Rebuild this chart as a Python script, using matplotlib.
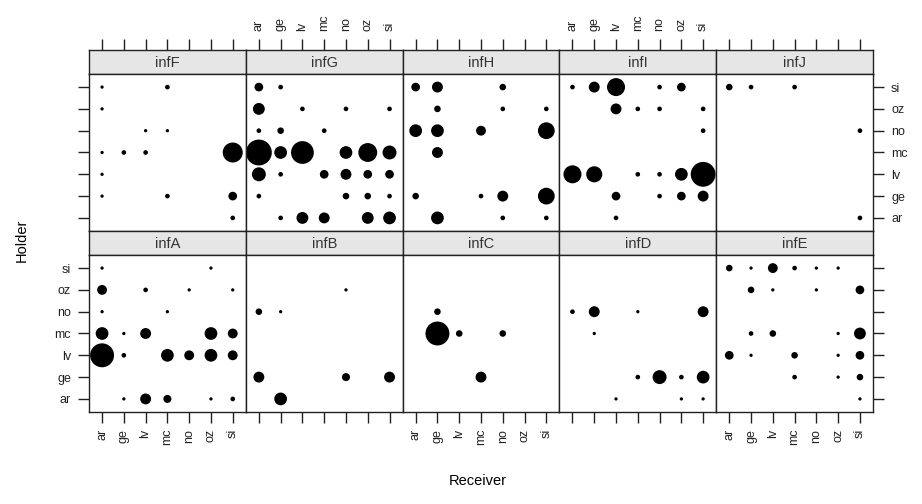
import numpy as np
import matplotlib
matplotlib.use("Agg")
import matplotlib.pyplot as plt

plt.rcParams['font.family'] = ['Liberation Sans', 'DejaVu Sans']

# receiver (x) and holder (y) categories
codes = ['ar', 'ge', 'lv', 'mc', 'no', 'oz', 'si']

# counts per panel, rows listed top to bottom (holder si..ar), cols receiver ar..si
infF = [[1, 0, 0, 2, 0, 0, 0],
        [1, 0, 0, 0, 0, 0, 0],
        [0, 0, 1, 1, 0, 0, 0],
        [1, 2, 2, 0, 0, 0, 37],
        [1, 0, 0, 0, 0, 0, 0],
        [1, 0, 0, 2, 0, 0, 7],
        [0, 0, 0, 0, 0, 0, 2]]
infG = [[7, 2, 0, 0, 0, 0, 0],
        [13, 0, 2, 0, 2, 0, 2],
        [2, 4, 0, 2, 0, 0, 0],
        [62, 15, 48, 0, 15, 33, 18],
        [18, 2, 0, 7, 11, 7, 7],
        [2, 0, 0, 0, 4, 4, 2],
        [0, 2, 13, 11, 0, 13, 15]]
infH = [[7, 11, 0, 0, 4, 0, 0],
        [0, 4, 0, 0, 2, 0, 2],
        [15, 15, 0, 9, 0, 0, 26],
        [0, 11, 0, 0, 0, 0, 0],
        [0, 0, 0, 0, 0, 0, 0],
        [4, 0, 0, 2, 11, 0, 26],
        [0, 15, 0, 0, 2, 0, 2]]
infI = [[2, 11, 30, 0, 2, 7, 0],
        [0, 0, 11, 2, 2, 0, 2],
        [0, 0, 0, 0, 0, 0, 2],
        [0, 0, 0, 0, 0, 0, 0],
        [30, 24, 0, 2, 2, 15, 57],
        [0, 0, 7, 0, 2, 7, 11],
        [0, 0, 2, 0, 0, 0, 0]]
infJ = [[4, 2, 0, 2, 0, 0, 0],
        [0, 0, 0, 0, 0, 0, 0],
        [0, 0, 0, 0, 0, 0, 2],
        [0, 0, 0, 0, 0, 0, 0],
        [0, 0, 0, 0, 0, 0, 0],
        [0, 0, 0, 0, 0, 0, 0],
        [0, 0, 0, 0, 0, 0, 2]]
infA = [[1, 0, 0, 0, 0, 1, 0],
        [9, 0, 2, 0, 1, 0, 1],
        [1, 0, 0, 1, 0, 0, 0],
        [15, 1, 11, 0, 0, 15, 9],
        [53, 2, 0, 15, 9, 15, 9],
        [0, 0, 0, 0, 0, 0, 0],
        [0, 1, 11, 6, 0, 1, 2]]
infB = [[0, 0, 0, 0, 0, 0, 0],
        [0, 0, 0, 0, 1, 0, 0],
        [4, 1, 0, 0, 0, 0, 0],
        [0, 0, 0, 0, 0, 0, 0],
        [0, 0, 0, 0, 0, 0, 0],
        [11, 0, 0, 0, 6, 0, 11],
        [0, 15, 0, 0, 0, 0, 0]]
infC = [[0, 0, 0, 0, 0, 0, 0],
        [0, 0, 0, 0, 0, 0, 0],
        [0, 4, 0, 0, 0, 0, 0],
        [0, 53, 4, 0, 4, 0, 0],
        [0, 0, 0, 0, 0, 0, 0],
        [0, 0, 0, 11, 0, 0, 0],
        [0, 0, 0, 0, 0, 0, 0]]
infD = [[0, 0, 0, 0, 0, 0, 0],
        [0, 0, 0, 0, 0, 0, 0],
        [2, 11, 0, 1, 0, 0, 11],
        [0, 1, 0, 0, 0, 0, 0],
        [0, 0, 0, 0, 0, 0, 0],
        [0, 0, 0, 2, 18, 2, 15],
        [0, 0, 1, 0, 0, 1, 1]]
infE = [[4, 1, 9, 2, 1, 1, 0],
        [0, 4, 1, 0, 1, 0, 7],
        [0, 0, 0, 0, 0, 0, 0],
        [0, 2, 4, 0, 0, 1, 13],
        [7, 1, 0, 4, 0, 1, 7],
        [0, 0, 0, 2, 0, 1, 4],
        [0, 0, 0, 0, 0, 0, 1]]

top_names = ['infF', 'infG', 'infH', 'infI', 'infJ']
top_data = [infF, infG, infH, infI, infJ]
bot_names = ['infA', 'infB', 'infC', 'infD', 'infE']
bot_data = [infA, infB, infC, infD, infE]

W, H = 922, 504
fig = plt.figure(figsize=(W / 100, H / 100), dpi=100)

x0, pw = 89, 156.8       # panel left edge / width in px
body_h, strip_h = 157, 24
top_strip_y = 50
lim = (-0.6, 6.6)
frame_col = '#222222'


def fr(x, y, w, h):
    return [x / W, 1 - (y + h) / H, w / W, h / H]


def draw_panel(col, row, name, data):
    ys = top_strip_y + row * (strip_h + body_h)
    sax = fig.add_axes(fr(x0 + col * pw, ys, pw, strip_h))
    ax = fig.add_axes(fr(x0 + col * pw, ys + strip_h, pw, body_h))

    m = np.array(data)[::-1]          # row 0 -> holder 'ar'
    yy, xx = np.nonzero(m)
    ax.scatter(xx, yy, s=m[yy, xx] * 5.6, c='black', linewidths=0)

    for a in (ax, sax):
        a.set_xlim(lim)
        for sp in a.spines.values():
            sp.set_color(frame_col)
            sp.set_linewidth(1.0)
    ax.set_ylim(lim)
    sax.set_ylim(0, 1)
    sax.set_facecolor('#e6e6e6')
    sax.text(3, 0.45, name, ha='center', va='center', fontsize=10.5, color='#333333')
    sax.set_yticks([])

    # x ticks: top row on top of strip, bottom row at bottom of body
    if row == 0:
        ax.set_xticks([])
        sax.set_xticks(range(7))
        sax.tick_params(axis='x', top=True, bottom=False, labelbottom=False,
                        labeltop=(col % 2 == 1), direction='out', length=8,
                        width=1, color=frame_col, pad=6)
        sax.set_xticklabels(codes, rotation=90, fontsize=9, color='#222222')
    else:
        sax.set_xticks([])
        ax.set_xticks(range(7))
        ax.set_xticklabels(codes, rotation=90, fontsize=9, color='#222222')
        ax.tick_params(axis='x', bottom=True, top=False, labelbottom=(col % 2 == 0),
                       direction='out', length=8, width=1, color=frame_col, pad=4)

    ax.set_yticks(range(7))
    ax.set_yticklabels(codes, fontsize=9, color='#222222')
    ax.tick_params(axis='y', left=(col == 0), right=(col == 4),
                   labelleft=(col == 0 and row == 1),
                   labelright=(col == 4 and row == 0),
                   direction='out', length=8, width=1, color=frame_col, pad=5)


for i in range(5):
    draw_panel(i, 0, top_names[i], top_data[i])
    draw_panel(i, 1, bot_names[i], bot_data[i])

fig.text(22 / W, 1 - 240 / H, 'Holder', rotation=90, ha='center', va='center', fontsize=10.5)
fig.text(478 / W, 1 - 481 / H, 'Receiver', ha='center', va='center', fontsize=10.5)

fig.savefig('out.png', dpi=100)
